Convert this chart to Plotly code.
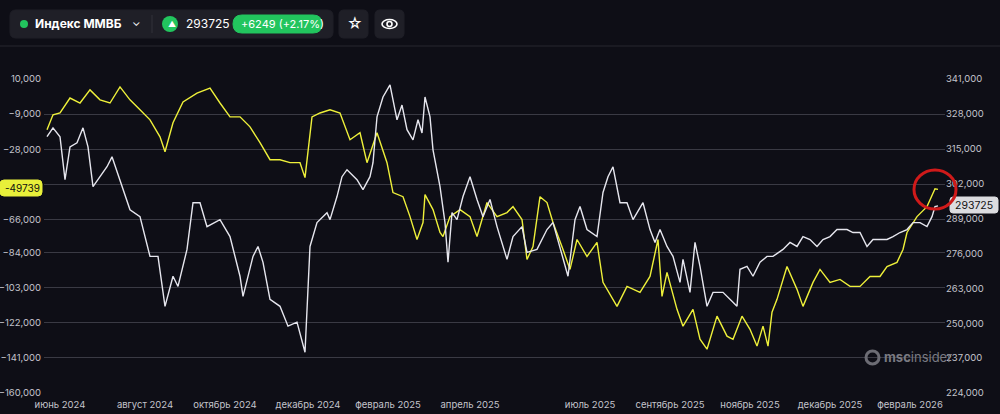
import plotly.graph_objects as go

# ---- data (x = time position) ----
yellow_t = [47,53,60,70,80,90,100,110,120,130,140,150,160,165,173,183,197,210,220,230,240,250,260,270,280,290,300,305,312,320,330,340,350,360,367,377,387,393,403,410,417,423,425,433,440,443,450,460,470,477,487,497,507,513,522,527,533,540,547,553,563,570,577,587,597,603,617,627,640,650,658,662,667,677,683,693,700,707,717,727,733,742,750,757,763,768,772,777,787,797,803,813,820,830,840,850,860,870,880,887,897,903,907,917,927,930,935,938]
yellow_v = [-17500,-9400,-8400,-300,-3000,4100,-1300,-3000,5700,-1300,-6700,-12100,-21300,-29400,-13700,-2400,2400,5100,-3000,-10500,-10500,-15900,-24500,-33700,-33700,-35300,-35300,-43400,-10500,-8400,-6700,-8400,-22900,-19100,-35300,-19100,-35300,-51500,-53700,-64500,-76900,-67700,-52600,-60700,-73100,-75300,-64500,-60700,-64500,-75300,-56900,-64500,-62300,-59100,-66100,-87700,-80700,-53700,-56900,-67700,-82300,-93100,-76900,-86100,-78500,-100100,-113100,-102300,-105500,-96900,-76900,-107700,-94700,-114700,-123800,-114700,-130900,-136300,-118400,-129200,-130900,-118400,-125500,-134600,-123800,-134600,-116300,-109300,-91500,-103900,-113100,-100100,-93100,-100100,-98500,-102300,-102300,-96900,-96900,-91500,-89300,-82300,-73100,-64500,-59100,-55300,-49400,-49739]

white_t = [47,53,60,65,70,77,83,88,93,100,107,112,120,130,140,150,158,165,173,178,187,193,200,207,220,230,240,243,253,258,263,270,280,288,297,305,310,317,327,330,337,342,347,357,363,370,373,377,383,390,397,402,407,413,418,422,425,430,433,440,445,448,452,457,463,470,477,483,490,497,507,513,522,527,537,547,553,563,568,575,580,587,597,603,608,613,620,627,633,643,650,655,660,667,673,680,683,690,695,700,707,713,723,733,737,740,747,753,760,767,773,783,790,797,803,810,817,823,830,837,847,853,860,867,873,880,887,893,900,907,913,920,927,932,935,938]
white_v = [319500,322800,319500,303500,315700,317200,322800,315700,300900,304600,308300,312000,303500,292300,289700,274900,274900,256300,267500,263700,277500,294900,294900,286000,288600,282300,267500,260000,274900,278600,272700,258900,256300,248900,250400,239200,278600,287500,291200,288600,297200,304600,307200,303500,299800,304600,309800,326900,334300,338800,325800,331300,322100,318300,325800,320900,334300,326900,314600,300900,287500,272700,291200,288600,297200,304600,296100,289700,296100,286000,273800,282300,286000,276400,277500,284900,287500,273800,267500,288600,293500,284900,282300,298700,304600,308300,294900,294900,288600,294900,284900,280100,284900,278600,274900,265200,273800,261500,280100,271200,256300,261500,261500,257800,256300,270100,271200,267500,272700,274900,274900,277500,280100,278600,282300,281200,278600,281200,282300,284900,284900,283800,283800,278600,281200,281200,281200,282300,283800,284900,287500,287500,286000,289700,293500,293725]

x_tick_pos = [60,145,225,308,388,470,590,670,750,830,910]
x_tick_labels = ["июнь 2024","август 2024","октябрь 2024","декабрь 2024","февраль 2025","апрель 2025","июль 2025","сентябрь 2025","ноябрь 2025","декабрь 2025","февраль 2026"]
left_ticks = [10000,-9000,-28000,-47000,-66000,-84000,-103000,-122000,-141000,-160000]
right_ticks = [341000,328000,315000,302000,289000,276000,263000,250000,237000,224000]

BG = "#0e0e16"
TXT = "#c4c4cc"
L, R, T, B = 44, 945, 79, 393
def px(x): return (x - L) / (R - L)
def py(y): return (B - y) / (B - T)

fig = go.Figure()
fig.add_trace(go.Scatter(x=white_t, y=white_v, yaxis="y2", mode="lines",
                         line=dict(color="#e6e6ee", width=1.4), hoverinfo="skip"))
fig.add_trace(go.Scatter(x=yellow_t, y=yellow_v, mode="lines",
                         line=dict(color="#eef03a", width=1.4), hoverinfo="skip"))

def rrect(x0, y0, x1, y1, r, fill, line=None):
    X0, X1 = px(x0), px(x1)
    Y0, Y1 = py(y0), py(y1)
    rx = r / (R - L); ry = r / (B - T)
    path = (f"M{X0+rx},{Y0} L{X1-rx},{Y0} Q{X1},{Y0} {X1},{Y0-ry} L{X1},{Y1+ry} Q{X1},{Y1} {X1-rx},{Y1} "
            f"L{X0+rx},{Y1} Q{X0},{Y1} {X0},{Y1+ry} L{X0},{Y0-ry} Q{X0},{Y0} {X0+rx},{Y0} Z")
    return dict(type="path", xref="paper", yref="paper", path=path, fillcolor=fill,
                line=dict(color=line or fill, width=1), layer="above")

shapes = [
    rrect(10, 10, 333, 38, 6, "#1f1f27"),
    rrect(339, 10, 368, 38, 5, "#1f1f27"),
    rrect(375, 10, 404, 38, 5, "#1f1f27"),
    dict(type="line", xref="paper", yref="paper", x0=px(0), x1=px(1000), y0=py(46), y1=py(46),
         line=dict(color="#26262e", width=1)),
    dict(type="line", xref="paper", yref="paper", x0=px(152), x1=px(152), y0=py(15), y1=py(33),
         line=dict(color="#33333b", width=1)),
    dict(type="circle", xref="paper", yref="paper", x0=px(20), x1=px(28), y0=py(20), y1=py(28),
         fillcolor="#22c55e", line=dict(width=0)),
    dict(type="circle", xref="paper", yref="paper", x0=px(162), x1=px(178), y0=py(16), y1=py(32),
         fillcolor="#22c55e", line=dict(width=0)),
    rrect(233, 15, 322, 33, 9, "#22c55e"),
    dict(type="circle", xref="paper", yref="paper", x0=px(382), x1=px(397), y0=py(19.5), y1=py(28.5),
         line=dict(color="#ffffff", width=1.6)),
    dict(type="circle", xref="paper", yref="paper", x0=px(387), x1=px(392), y0=py(21.5), y1=py(26.5),
         line=dict(color="#ffffff", width=1.6)),
    # last-value badges
    rrect(0, 180, 42, 196, 4, "#e8f03a"),
    rrect(950, 197, 998, 213, 3, "#dcdce0"),
    # red circle
    dict(type="circle", xref="paper", yref="paper", x0=px(914), x1=px(956), y0=py(170), y1=py(209),
         line=dict(color="#d01a1a", width=3), layer="above"),
    # watermark icon
    dict(type="circle", xref="paper", yref="paper", x0=px(866), x1=px(879), y0=py(351), y1=py(364),
         line=dict(color="#6c6c74", width=3)),
]

ann = [
    dict(x=px(33), y=py(24), text="<b>Индекс ММВБ</b>", font=dict(color="#ffffff", size=12)),
    dict(x=px(130), y=py(22), text="⌄", font=dict(color="#ffffff", size=11)),
    dict(x=px(166), y=py(24), text="▲", font=dict(color="#ffffff", size=8)),
    dict(x=px(184), y=py(24), text="293725", font=dict(color="#ffffff", size=12)),
    dict(x=px(239), y=py(24), text="+6249 (+2.17%)", font=dict(color="#ffffff", size=11)),
    dict(x=px(345), y=py(23.5), text="☆", font=dict(color="#ffffff", size=15)),
    dict(x=px(3), y=py(188), text="-49739", font=dict(color="#111111", size=10)),
    dict(x=px(953), y=py(205), text="293725", font=dict(color="#111111", size=10.5)),
    dict(x=px(882), y=py(357), text="<b>msc</b>insider", font=dict(color="#7a7a82", size=13)),
]
for a in ann:
    a.update(xref="paper", yref="paper", showarrow=False, xanchor="left", yanchor="middle")
    a["font"]["family"] = "Inter, Roboto, sans-serif"

fig.update_layout(
    width=1000, height=414, paper_bgcolor=BG, plot_bgcolor=BG,
    margin=dict(l=L, r=1000 - R, t=T, b=414 - B, autoexpand=False),
    showlegend=False, shapes=shapes, annotations=ann,
    font=dict(family="Inter, Roboto, sans-serif", color=TXT, size=9.5),
    xaxis=dict(range=[L, R], tickvals=x_tick_pos, ticktext=x_tick_labels, showgrid=False, automargin=False,
               zeroline=False, showline=False, ticks="", ticklabelstandoff=4,
               tickfont=dict(size=9.5, color=TXT)),
    yaxis=dict(range=[-160000, 10000], tickvals=left_ticks, tickformat=",d", automargin=False,
               gridcolor="#3a3a44", gridwidth=1, zeroline=False, ticks="", ticklabelstandoff=2,
               tickfont=dict(size=9.5, color=TXT)),
    yaxis2=dict(range=[224000, 341000], tickvals=right_ticks, tickformat=",d", overlaying="y",
                side="right", showgrid=False, zeroline=False, ticks="", automargin=False,
                tickfont=dict(size=9.5, color=TXT)),
)
fig.write_html("out.html", config={"displayModeBar": False},
               post_script="document.body.style.margin='0';document.body.style.background='#0e0e16';")
